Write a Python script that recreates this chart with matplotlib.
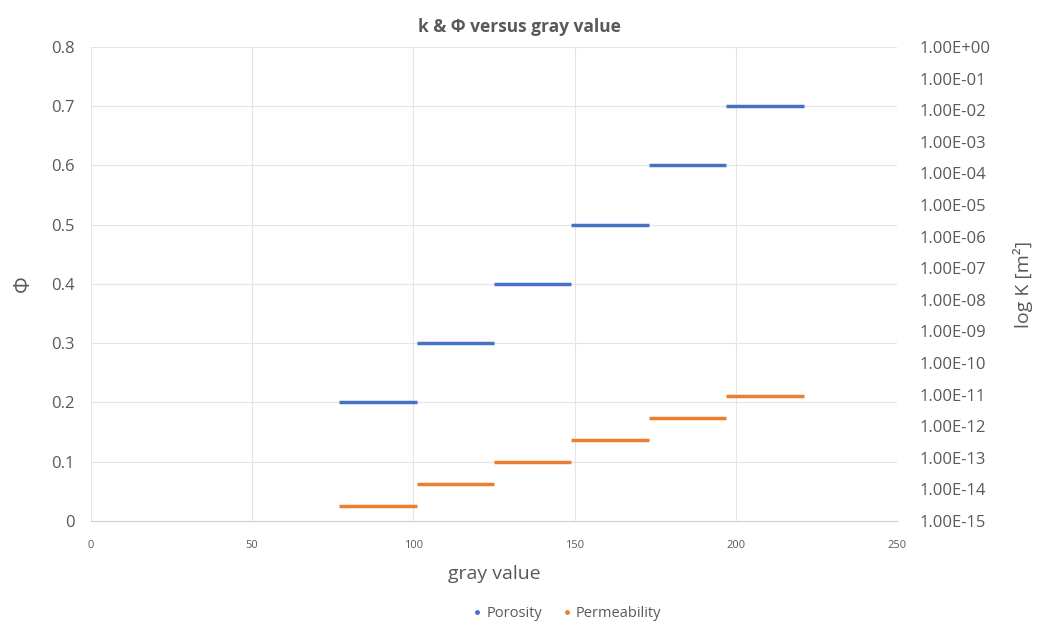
import numpy as np
import matplotlib.pyplot as plt
from matplotlib.lines import Line2D

# gray value class edges (each class spans one step)
gray_start = [77, 101, 125, 149, 173, 197]
gray_end = [101, 125, 149, 173, 197, 221]

porosity = [0.2, 0.3, 0.4, 0.5, 0.6, 0.7]
permeability = [2.9e-15, 1.45e-14, 7.2e-14, 3.6e-13, 1.8e-12, 9.0e-12]

k_ticks = [10.0 ** e for e in range(-15, 1)]

BLUE = "#4472C4"
ORANGE = "#ED7D31"
TXT = "#595959"
GRID = "#E4E4E4"

plt.rcParams["font.family"] = ["Open Sans", "DejaVu Sans"]

fig = plt.figure(figsize=(10.48, 6.29), dpi=100)
ax = fig.add_axes([0.0868, 0.1717, 0.7692, 0.7536])
ax2 = ax.twinx()

ax.hlines(porosity, gray_start, gray_end, color=BLUE, linewidth=2.5, zorder=3)
ax2.hlines(permeability, gray_start, gray_end, color=ORANGE, linewidth=2.5, zorder=3)

ax.set_xlim(0, 250)
ax.set_ylim(0, 0.8)
ax.set_xticks(np.arange(0, 251, 50))
ax.set_yticks(np.arange(0, 0.81, 0.1))
ax.set_yticklabels(["0"] + [f"{v:.1f}" for v in np.arange(0.1, 0.81, 0.1)])
ax.grid(True, color=GRID, linewidth=0.8)
ax.set_axisbelow(True)

ax2.set_yscale("log")
ax2.set_ylim(1e-15, 1e0)
ax2.set_yticks(k_ticks)
ax2.set_yticklabels([f"1.00E{'+' if e >= 0 else '-'}{abs(e):02d}" for e in range(-15, 1)])
ax2.minorticks_off()

for a in (ax, ax2):
    for s in a.spines.values():
        s.set_visible(False)
    a.tick_params(length=0, colors=TXT)
ax.spines["bottom"].set_visible(True)
ax.spines["bottom"].set_color("#D0D0D0")

ax.tick_params(axis="y", labelsize=12, pad=12)
ax.tick_params(axis="x", labelsize=8, pad=14)
ax2.tick_params(axis="y", labelsize=12, pad=16)

ax.set_xlabel("gray value", fontsize=14, color=TXT, labelpad=10)
ax.set_ylabel("Φ", fontsize=15, color=TXT, labelpad=12)
ax2.set_ylabel("log K [m²]", fontsize=14, color=TXT, labelpad=16)
# title is centred on the whole chart, not the plot area
fig.suptitle("k & Φ versus gray value", x=0.496, y=0.972, fontsize=12.5,
             fontweight="bold", color=TXT)

handles = [
    Line2D([], [], linestyle="none", marker="o", markersize=2.5, color=BLUE),
    Line2D([], [], linestyle="none", marker="o", markersize=2.5, color=ORANGE),
]
fig.legend(handles, ["Porosity", "Permeability"], loc="center", bbox_to_anchor=(0.541, 0.025),
           ncol=2, frameon=False, fontsize=10.5, labelcolor=TXT, handlelength=0.6,
           handletextpad=0.3, columnspacing=1.4)

fig.savefig("out.png", dpi=100)
